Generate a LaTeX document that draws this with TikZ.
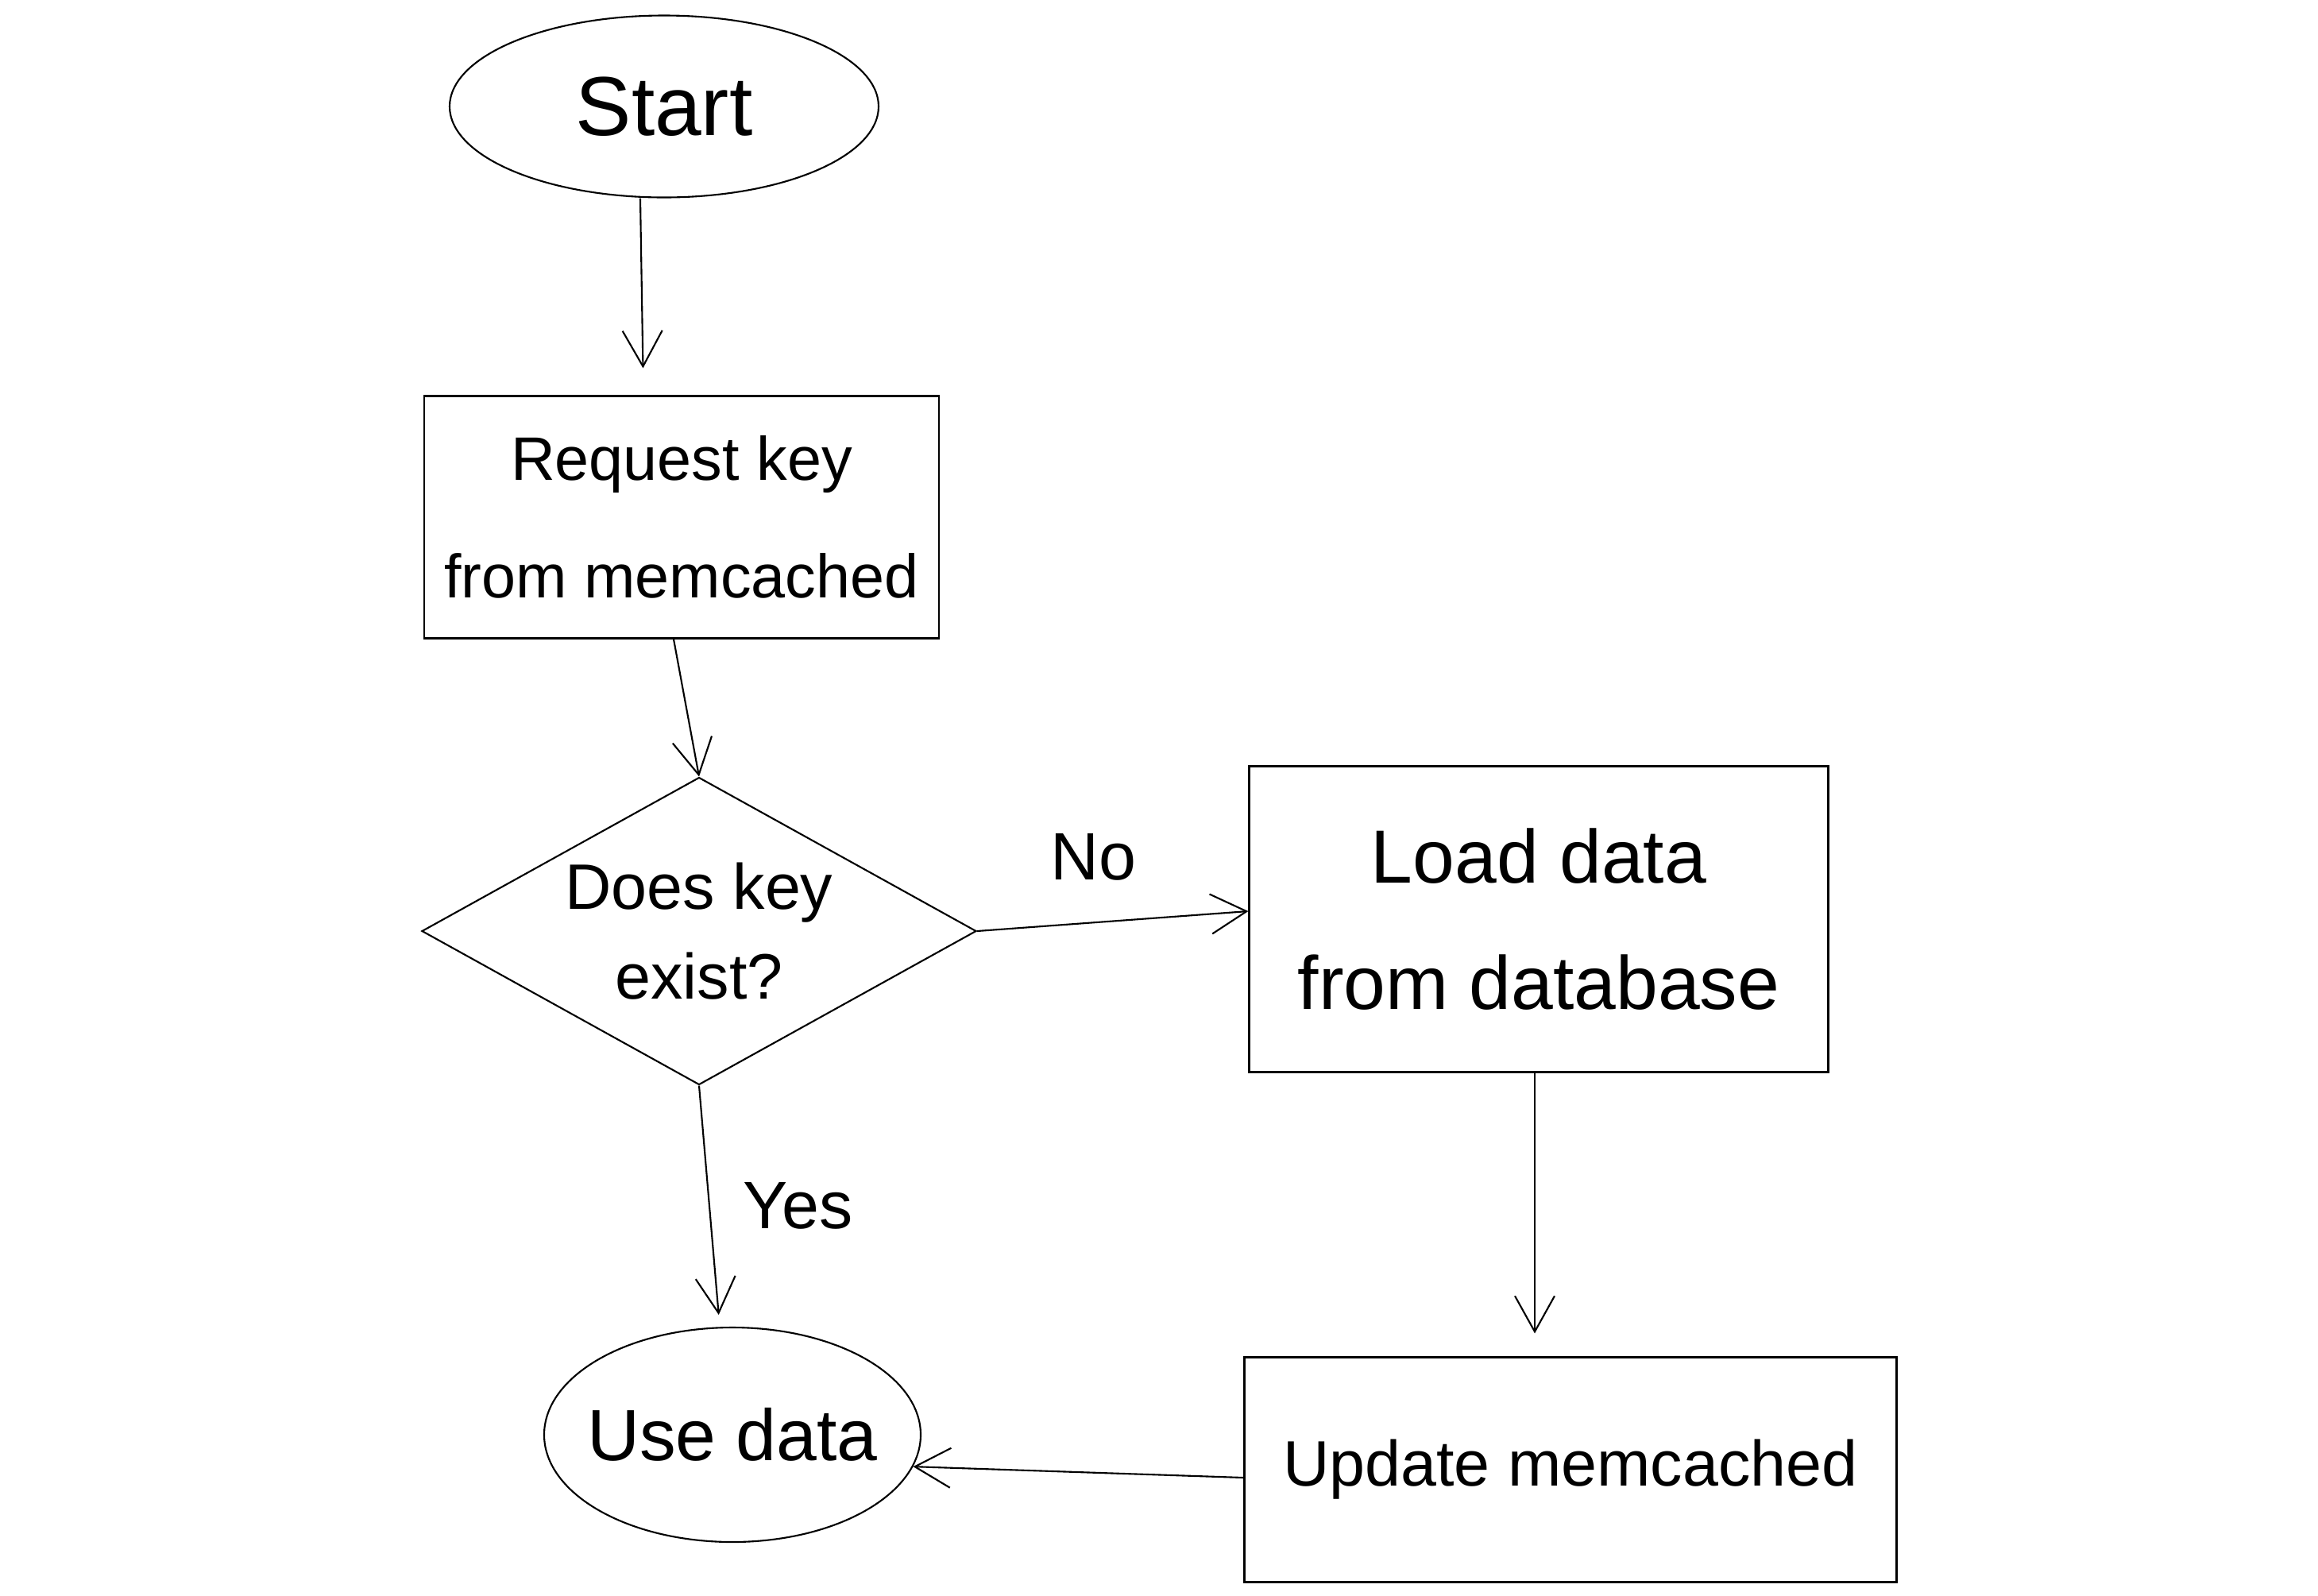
\documentclass[tikz,border=0pt]{standalone}
\usepackage{fontspec}
\setmainfont{Liberation Sans}
\usetikzlibrary{shapes.geometric,arrows.meta}
\newcommand{\handsize}[2]{\fontsize{#1}{#2}\selectfont}
\tikzset{
  every node/.style={align=center, font=\handsize{24}{32}},
  term/.style={draw, ellipse, inner sep=-4mm},
  proc/.style={draw, rectangle, inner sep=1mm},
  cond/.style={draw, diamond, aspect=1.8, inner sep=-4mm},
  flow/.style={-{Straight Barb[length=4.5mm,width=5mm]}},
}
\begin{document}
\begin{tikzpicture}[line width=0.6pt]
      \useasboundingbox (0,0) rectangle (29.18,-20.08);
      \draw
        (8.36,-1.34) node[term, minimum width=5.4cm, minimum height=2.29cm,
          font=\handsize{30}{36}] (start){Start}
        (8.58,-6.51) node[proc, minimum width=6.48cm, minimum height=3.05cm,
          font=\handsize{22}{42}] (request){Request key\\from memcached}
        (8.80,-11.72) node[cond, minimum width=6.98cm, minimum height=3.87cm,
          font=\handsize{23}{32}] (check){Does key\\exist?}
        (19.37,-11.57) node[proc, minimum width=7.29cm, minimum height=3.85cm,
          font=\handsize{27}{45}] (load){Load data\\from database}
        (19.77,-18.50) node[proc, minimum width=8.21cm, minimum height=2.83cm,
          font=\handsize{23}{30}] (update){Update memcached}
        (9.22,-18.06) node[term, minimum width=4.74cm, minimum height=2.70cm,
          font=\handsize{26}{30}] (use){Use data};
      \begin{scope}[flow]
        \draw[shorten >=3.4mm] ([xshift=-3mm]start.south) to ([xshift=-4.8mm]request.north);
        \draw ([xshift=-1mm]request.south) to (check.north);
        \draw (check.east) to node[pos=0.43, above=4mm] (no){No} ([yshift=1mm]load.west);
        \draw[shorten >=1.5mm] (check.south) to node[pos=0.5, right=3mm] (yes){Yes} ([xshift=-1.6mm]use.north);
        \draw[shorten >=2.9mm] ([xshift=-0.5mm]load.south) to ([xshift=-0.5mm]load.south |- update.north);
        \draw ([yshift=-1mm]update.west) to (use.-10);
      \end{scope}
    \end{tikzpicture}
\end{document}
